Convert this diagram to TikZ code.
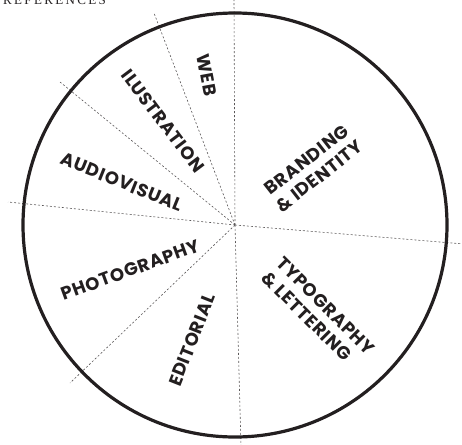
\documentclass[tikz,border=0pt]{standalone}
\usepackage{fontspec}
\newfontfamily\labfont{Poppins}[LetterSpace=4]
\newfontfamily\titfont{Liberation Serif}[LetterSpace=18]
\definecolor{ink}{HTML}{231F20}
\begin{document}
\begin{tikzpicture}[x=1pt,y=-1pt,
  sector/.style={draw=ink!75,line width=0.6pt,dash pattern=on 2pt off 2pt},
  lab/.style={font=\labfont\bfseries\fontsize{18}{21}\selectfont,text=ink,inner sep=0pt},
  rim/.style={draw=ink,line width=3.2pt}]
\useasboundingbox (0,0) rectangle (462,444);
\coordinate (c) at (235,225);
\coordinate (e1) at (234,-2);
\coordinate (e2) at (154,13);
\coordinate (e3) at (60,82);
\coordinate (e4) at (8,202);
\coordinate (e5) at (70,383);
\coordinate (e6) at (241,446);
\coordinate (e7) at (464,244);
\foreach \e in {e1,e2,e3,e4,e5,e6,e7} \draw[sector] (c) -- (\e);
\draw[rim] (c) circle[radius=212];
\node[anchor=base west,inner sep=0pt,font=\titfont\fontsize{13}{14}\selectfont,text=ink] (title) at (3,5) {REFERENCES};
\node[lab,rotate=-79.5] (web) at (207,75) {WEB};
\node[lab,rotate=-53] (ill) at (163,121) {ILUSTRATION};
\node[lab,rotate=-22] (av) at (122,182) {AUDIOVISUAL};
\node[lab,rotate=20] (ph) at (130,270) {PHOTOGRAPHY};
\node[lab,rotate=68.5] (ed) at (192,340) {EDITORIAL};
\node[lab,rotate=38,align=center] (br) at (313,168) {BRANDING\\\& IDENTITY};
\node[lab,rotate=-45,align=left] (ty) at (318,313) {TYPOGRAPHY\\\& LETTERING};
\end{tikzpicture}
\end{document}
